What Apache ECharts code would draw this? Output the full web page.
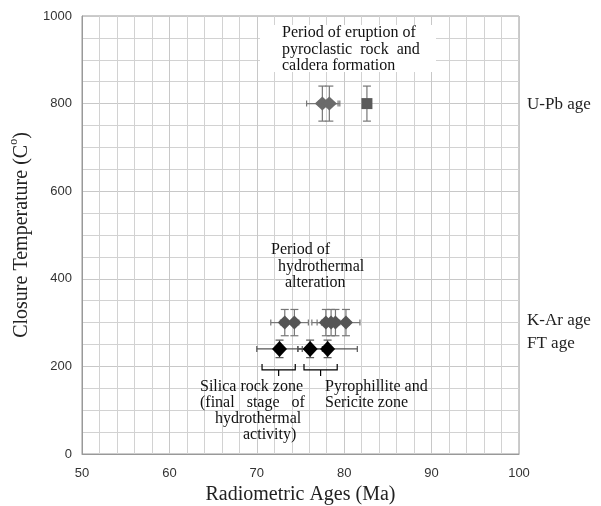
<!DOCTYPE html>
<html>
<head>
<meta charset="utf-8">
<script src="https://cdn.jsdelivr.net/npm/echarts@6/dist/echarts.min.js"></script>
<style>
  html, body { margin: 0; padding: 0; background: #fff; }
  #chart { width: 601px; height: 506px; }
</style>
</head>
<body>
<div id="chart"></div>
<script>
// 数据：[年龄(Ma), 封闭温度(°C), 年龄误差, 温度误差]
const upbDiamonds = [[77.5, 800, 1.8, 40], [78.3, 800, 1.2, 40]]
const upbSquare = [[82.6, 800, 0, 40]]
const karAges = [[73.2, 300, 1.6, 30], [74.3, 300, 1.6, 30], [77.9, 300, 1.6, 30],
                 [78.5, 300, 1.6, 30], [79.0, 300, 1.6, 30], [80.2, 300, 1.6, 30]]
const ftAges = [[72.6, 240, 2.6, 20], [76.1, 240, 1.4, 20], [78.1, 240, 3.4, 20]]
// 括号：[起点, 终点, 温度, 中点]
const brackets = [[70.6, 74.4, 192, 72.5], [75.4, 79.2, 192, 77.3]]

const xTicks = { min: 50, max: 100, interval: 10 }
const yTicks = { min: 0, max: 1000, interval: 200 }

const ageLabels = [
  { text: 'U-Pb age', x: 527, y: 105 },
  { text: 'K-Ar age', x: 527, y: 321 },
  { text: 'FT age', x: 527, y: 344 }
]
const notes = [
  { text: 'Period of eruption of', x: 282, y: 33 },
  { text: 'pyroclastic  rock  and', x: 282, y: 50 },
  { text: 'caldera formation', x: 282, y: 66 },
  { text: 'Period of', x: 271, y: 250 },
  { text: 'hydrothermal', x: 278, y: 267 },
  { text: 'alteration', x: 285, y: 283 },
  { text: 'Silica rock zone', x: 200, y: 387 },
  { text: '(final   stage   of', x: 200, y: 403 },
  { text: 'hydrothermal', x: 215, y: 419 },
  { text: 'activity)', x: 243, y: 435 },
  { text: 'Pyrophillite and', x: 325, y: 387 },
  { text: 'Sericite zone', x: 325, y: 403 }
]

const serif = '"Liberation Serif", "Times New Roman", serif'
const sans = '"Liberation Sans", Arial, sans-serif'

// 误差棒（十字 + 端帽）
function errorBars(data, color) {
  return {
    type: 'custom',
    z: 3,
    data: data,
    renderItem: function (params, api) {
      const x = api.value(0), y = api.value(1), dx = api.value(2), dy = api.value(3)
      const style = { stroke: color, lineWidth: 1.2 }
      const children = []
      if (dy > 0) {
        const top = api.coord([x, y + dy]), bot = api.coord([x, y - dy])
        children.push({ type: 'line', shape: { x1: top[0], y1: top[1], x2: bot[0], y2: bot[1] }, style })
        children.push({ type: 'line', shape: { x1: top[0] - 4, y1: top[1], x2: top[0] + 4, y2: top[1] }, style })
        children.push({ type: 'line', shape: { x1: bot[0] - 4, y1: bot[1], x2: bot[0] + 4, y2: bot[1] }, style })
      }
      if (dx > 0) {
        const l = api.coord([x - dx, y]), r = api.coord([x + dx, y])
        children.push({ type: 'line', shape: { x1: l[0], y1: l[1], x2: r[0], y2: r[1] }, style })
        children.push({ type: 'line', shape: { x1: l[0], y1: l[1] - 3, x2: l[0], y2: l[1] + 3 }, style })
        children.push({ type: 'line', shape: { x1: r[0], y1: r[1] - 3, x2: r[0], y2: r[1] + 3 }, style })
      }
      return { type: 'group', children }
    }
  }
}

function points(data, symbol, size, color) {
  return {
    type: 'scatter',
    z: 4,
    data: data.map(d => [d[0], d[1]]),
    symbol: symbol,
    symbolSize: size,
    itemStyle: { color: color, opacity: 1 },
    silent: true
  }
}

const chart = echarts.init(document.getElementById('chart'))
chart.setOption({
  animation: false,
  backgroundColor: '#fff',
  grid: {
    left: 82, right: 82, top: 16, bottom: 52,
    outerBoundsMode: 'none', containLabel: false,
    show: true, borderColor: '#999', borderWidth: 1
  },
  xAxis: {
    type: 'value',
    min: xTicks.min, max: xTicks.max, interval: xTicks.interval,
    name: 'Radiometric Ages (Ma)',
    nameLocation: 'middle', nameGap: 31,
    nameTextStyle: { fontFamily: serif, fontSize: 20, color: '#222' },
    axisLine: { show: true, lineStyle: { color: '#999' } },
    axisTick: { show: false },
    axisLabel: { margin: 13, fontFamily: sans, fontSize: 13, color: '#333', formatter: v => String(v) },
    splitLine: { show: true, lineStyle: { color: '#c8c8c8', width: 1 } },
    minorTick: { show: false, splitNumber: 5 },
    minorSplitLine: { show: true, lineStyle: { color: '#d2d2d2', width: 1 } }
  },
  yAxis: {
    type: 'value',
    min: yTicks.min, max: yTicks.max, interval: yTicks.interval,
    name: '{a|Closure Temperature (C}{s|o}{a|)}',
    nameLocation: 'middle', nameGap: 43, nameRotate: 90,
    nameTextStyle: {
      rich: {
        a: { fontFamily: serif, fontSize: 20, color: '#222', lineHeight: 24, verticalAlign: 'bottom' },
        s: { fontFamily: serif, fontSize: 12, color: '#222', lineHeight: 24, verticalAlign: 'top' }
      }
    },
    axisLine: { show: true, lineStyle: { color: '#999' } },
    axisTick: { show: false },
    axisLabel: { margin: 10, fontFamily: sans, fontSize: 13, color: '#333', formatter: v => String(v) },
    splitLine: { show: true, lineStyle: { color: '#c8c8c8', width: 1 } },
    minorTick: { show: false, splitNumber: 4 },
    minorSplitLine: { show: true, lineStyle: { color: '#d2d2d2', width: 1 } }
  },
  series: [
    errorBars(upbDiamonds, '#777'),
    errorBars(upbSquare, '#777'),
    errorBars(karAges, '#777'),
    errorBars(ftAges, '#555'),
    points(upbDiamonds, 'diamond', [15, 14], '#6a6a6a'),
    points(upbSquare, 'rect', 11, '#5a5a5a'),
    points(karAges, 'diamond', [14, 14], '#555'),
    points(ftAges, 'diamond', [15, 16], '#000'),
    {
      type: 'custom',
      z: 3,
      data: brackets,
      renderItem: function (params, api) {
        const a = api.coord([api.value(0), api.value(2)])
        const b = api.coord([api.value(1), api.value(2)])
        const c = api.coord([api.value(3), api.value(2)])
        const style = { stroke: '#000', lineWidth: 1.2, fill: null }
        return {
          type: 'group',
          children: [
            { type: 'polyline', shape: { points: [[a[0], a[1] - 6], [a[0], a[1]], [b[0], b[1]], [b[0], b[1] - 6]] }, style },
            { type: 'line', shape: { x1: c[0], y1: c[1], x2: c[0], y2: c[1] + 6 }, style }
          ]
        }
      }
    }
  ],
  graphic: [
    { type: 'rect', z: 10, shape: { x: 260, y: 25, width: 176, height: 47 }, style: { fill: '#fff' } }
  ].concat(notes.map(n => ({
    type: 'text', z: 11,
    style: { text: n.text, x: n.x, y: n.y, font: '16px ' + serif, fill: '#111', verticalAlign: 'middle', textVerticalAlign: 'middle' }
  }))).concat(ageLabels.map(n => ({
    type: 'text', z: 11,
    style: { text: n.text, x: n.x, y: n.y, font: '17px ' + serif, fill: '#222', verticalAlign: 'middle', textVerticalAlign: 'middle' }
  })))
})
</script>
</body>
</html>
